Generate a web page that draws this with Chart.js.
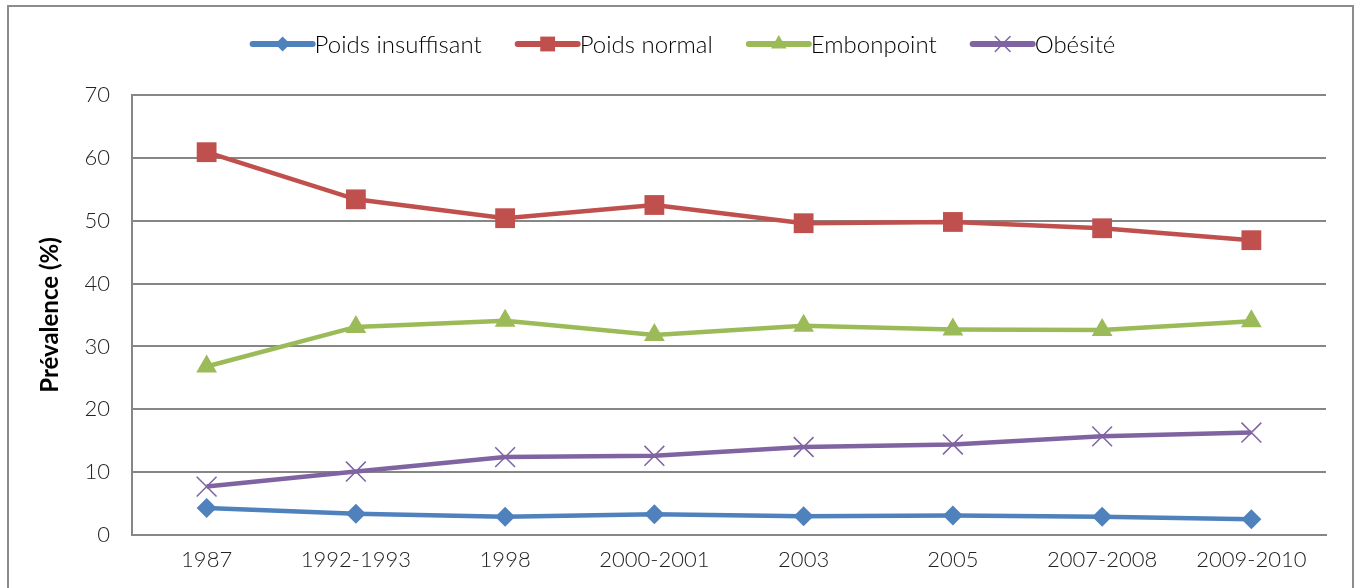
<!DOCTYPE html>
<html>
<head>
<meta charset="utf-8">
<script src="https://cdn.jsdelivr.net/npm/chart.js@4/dist/chart.umd.min.js"></script>
<style>
    html, body { margin: 0; padding: 0; background: #fff; }
    #wrap { position: relative; width: 1354px; height: 588px; }
</style>
</head>
<body>
<div id="wrap"><canvas id="chart"></canvas></div>
<script>
// Données
const annees = ['1987', '1992-1993', '1998', '2000-2001', '2003', '2005', '2007-2008', '2009-2010'];
const poidsInsuffisant = [4.3, 3.4, 2.9, 3.3, 3.0, 3.1, 2.9, 2.5];
const poidsNormal = [60.9, 53.4, 50.4, 52.5, 49.6, 49.8, 48.8, 46.9];
const embonpoint = [26.8, 33.1, 34.1, 31.8, 33.3, 32.7, 32.6, 34.0];
const obesite = [7.7, 10.1, 12.4, 12.6, 14.0, 14.4, 15.7, 16.3];
const ticksY = [0, 10, 20, 30, 40, 50, 60, 70];

const police = 'Lato, "Open Sans", sans-serif';

function serie(label, data, couleur, style, rayon) {
    return {
        label: label,
        data: data,
        borderColor: couleur,
        backgroundColor: couleur,
        borderWidth: 4.5,
        pointStyle: style,
        pointRadius: rayon,
        pointBorderWidth: style === 'crossRot' ? 1.5 : 0,
        pointBorderColor: couleur,
        tension: 0
    };
}

// Légende dessinée à la main (ligne + marqueur)
const legendePlugin = {
    id: 'legende',
    afterDraw(chart) {
        const ctx = chart.ctx;
        ctx.save();
        // cadre du graphique
        ctx.strokeStyle = '#8c8c8c';
        ctx.lineWidth = 2;
        ctx.strokeRect(8, 6, 1345, 600);

        ctx.font = '300 24px ' + police;
        ctx.textBaseline = 'middle';
        const y = 44;
        const ligne = 60;
        const ecart = 36;
        const items = chart.data.datasets.map(ds => ({ ds: ds, w: ctx.measureText(ds.label).width }));
        let total = 0;
        items.forEach((it, i) => { total += ligne + 2 + it.w + (i < items.length - 1 ? ecart : 0); });
        let x = 684 - total / 2;
        items.forEach(it => {
            const ds = it.ds;
            ctx.strokeStyle = ds.borderColor;
            ctx.lineWidth = 6;
            ctx.lineCap = 'round';
            ctx.beginPath();
            ctx.moveTo(x, y);
            ctx.lineTo(x + ligne, y);
            ctx.stroke();
            ctx.fillStyle = ds.backgroundColor;
            ctx.lineWidth = 1.5;
            Chart.helpers.drawPoint(ctx, {
                pointStyle: ds.pointStyle,
                radius: ds.pointRadius * 0.75,
                borderWidth: ds.pointBorderWidth
            }, x + ligne / 2, y);
            ctx.fillStyle = '#000';
            ctx.fillText(ds.label, x + ligne + 2, y + 1);
            x += ligne + 2 + it.w + ecart;
        });
        ctx.restore();
    }
};

new Chart(document.getElementById('chart'), {
    type: 'line',
    data: {
        labels: annees,
        datasets: [
            serie('Poids insuffisant', poidsInsuffisant, '#4F81BD', 'rectRot', 10),
            serie('Poids normal', poidsNormal, '#C0504D', 'rect', 14),
            serie('Embonpoint', embonpoint, '#9BBB59', 'triangle', 12),
            serie('Obésité', obesite, '#8064A2', 'crossRot', 14)
        ]
    },
    options: {
        responsive: true,
        maintainAspectRatio: false,
        animation: false,
        layout: { padding: { top: 95, right: 28, bottom: 0, left: 0 } },
        plugins: {
            legend: { display: false },
            tooltip: { enabled: false }
        },
        scales: {
            x: {
                offset: true,
                grid: { display: false, drawTicks: false },
                border: { color: '#868686', width: 2 },
                ticks: {
                    color: '#222',
                    font: { family: police, size: 22, weight: '300' },
                    padding: 12,
                    maxRotation: 0,
                    autoSkip: false
                },
                afterFit(scale) { scale.height = 53; }
            },
            y: {
                min: 0,
                max: 70,
                afterBuildTicks(scale) { scale.ticks = ticksY.map(v => ({ value: v })); },
                grid: { color: '#868686', lineWidth: 2, drawTicks: false },
                border: { color: '#868686', width: 2 },
                ticks: {
                    color: '#222',
                    font: { family: police, size: 22, weight: '300' },
                    padding: 22
                },
                title: {
                    display: true,
                    text: 'Prévalence (%)',
                    color: '#000',
                    font: { family: police, size: 24, weight: 'bold' },
                    padding: { top: 36, bottom: 0 }
                },
                afterFit(scale) { scale.width = 132; }
            }
        }
    },
    plugins: [legendePlugin]
});
</script>
</body>
</html>
